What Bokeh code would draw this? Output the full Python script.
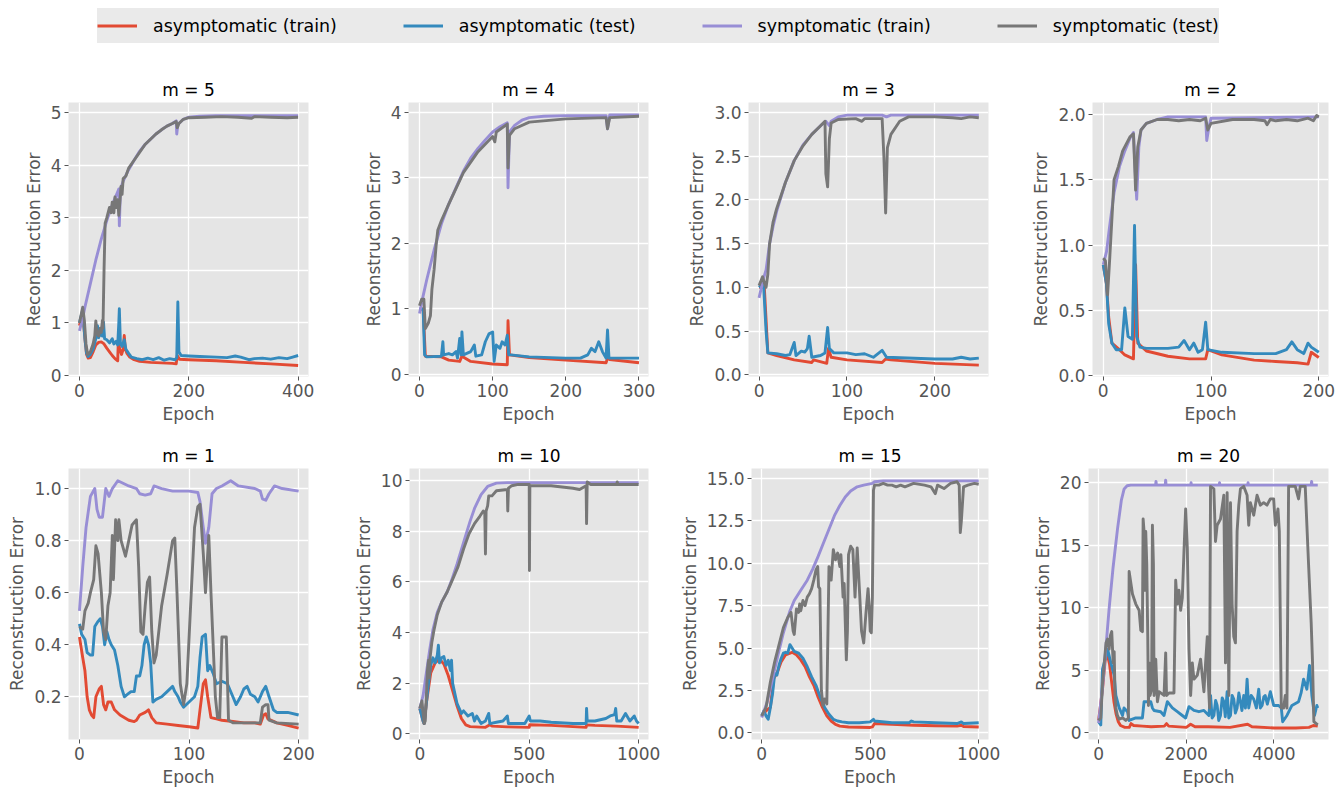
from bokeh.plotting import figure
from bokeh.layouts import column, row
from bokeh.models import (Range1d, FixedTicker, PrintfTickFormatter, Legend, LegendItem,
                          ColumnDataSource)
from bokeh.embed import file_html
from bokeh.resources import INLINE

# ---------------- data (epoch, reconstruction error) ----------------
SERIES_LABELS = ["asymptomatic (train)", "asymptomatic (test)", "symptomatic (train)", "symptomatic (test)"]
SERIES_COLORS = ["#E24A33", "#348ABD", "#988ED5", "#777777"]

PANEL_TITLES = ["m = 5", "m = 4", "m = 3", "m = 2", "m = 1", "m = 10", "m = 15", "m = 20"]

M5_ASYM_TRAIN = [(0,0.95),(6,1.2),(10,0.7),(13,0.4),(16,0.33),(20,0.34),(25,0.45),(30,0.58),(35,0.63),(40,0.64),
                 (45,0.6),(50,0.52),(55,0.45),(60,0.38),(65,0.32),(70,0.28),(71,0.62),(74,0.5),(77,0.4),(80,0.5),
                 (82,0.76),(84,0.5),(87,0.42),(92,0.35),(100,0.3),(110,0.27),(130,0.25),(150,0.24),(170,0.23),
                 (177,0.22),(179,0.38),(183,0.31),(200,0.3),(250,0.28),(300,0.25),(350,0.22),(400,0.19)]
M5_ASYM_TEST = [(0,1.0),(6,1.25),(10,0.7),(13,0.42),(16,0.36),(20,0.4),(25,0.5),(30,0.7),(33,0.95),(35,0.72),
                (38,0.8),(42,0.75),(44,1.02),(46,0.7),(50,0.68),(55,0.62),(60,0.7),(63,0.6),(67,0.65),(70,0.58),
                (72,1.0),(73,1.27),(75,0.6),(78,0.55),(82,0.68),(85,0.5),(90,0.42),(95,0.35),(105,0.32),(115,0.3),
                (125,0.33),(135,0.3),(145,0.34),(155,0.29),(165,0.32),(175,0.3),(178,0.34),(180,1.4),(182,0.45),
                (186,0.38),(200,0.37),(220,0.36),(250,0.35),(270,0.34),(285,0.37),(295,0.35),(310,0.3),(320,0.32),
                (335,0.33),(350,0.31),(365,0.34),(380,0.32),(390,0.35),(400,0.38)]
M5_SYM_TRAIN = [(0,0.85),(5,1.05),(10,1.3),(20,1.75),(30,2.2),(40,2.6),(50,2.95),(60,3.25),(70,3.5),(72,3.55),
                (73,2.85),(75,3.55),(80,3.7),(90,3.92),(100,4.1),(110,4.27),(120,4.4),(130,4.5),(140,4.6),
                (150,4.68),(160,4.75),(170,4.8),(177,4.85),(178,4.6),(180,4.78),(190,4.88),(200,4.92),(220,4.94),
                (250,4.95),(300,4.95),(400,4.95)]
M5_SYM_TEST = [(0,1.0),(3,1.15),(6,1.3),(9,1.05),(12,0.6),(15,0.4),(20,0.45),(25,0.6),(28,0.75),(30,1.04),
               (32,0.8),(35,0.75),(38,0.9),(40,0.82),(42,1.05),(43,0.9),(45,2.0),(47,2.9),(50,3.0),(55,3.2),
               (58,3.1),(60,3.3),(63,3.1),(65,3.4),(68,3.2),(70,3.35),(72,3.05),(74,3.3),(76,3.6),(78,3.45),
               (80,3.75),(85,3.8),(90,3.95),(100,4.1),(110,4.25),(120,4.4),(130,4.5),(140,4.6),(150,4.68),
               (160,4.75),(170,4.8),(177,4.84),(179,4.72),(182,4.8),(190,4.88),(200,4.91),(230,4.92),(260,4.93),
               (290,4.92),(315,4.9),(320,4.93),(350,4.92),(380,4.91),(400,4.92)]

M4_ASYM_TRAIN = [(0,1.0),(5,1.0),(8,0.28),(30,0.27),(40,0.22),(55,0.2),(58,0.28),(70,0.2),(100,0.16),(120,0.15),
                 (121,0.82),(123,0.3),(150,0.26),(200,0.22),(255,0.18),(257,0.25),(260,0.23),(300,0.18)]
M4_ASYM_TEST = [(0,1.0),(5,1.0),(7,0.3),(10,0.27),(30,0.28),(32,0.5),(33,0.3),(40,0.32),(45,0.3),(50,0.35),
                (52,0.25),(55,0.55),(57,0.3),(58,0.65),(60,0.3),(70,0.35),(75,0.45),(77,0.28),(85,0.3),(90,0.5),
                (95,0.62),(100,0.65),(102,0.2),(105,0.45),(110,0.4),(113,0.5),(117,0.45),(120,0.6),(122,0.3),
                (125,0.3),(150,0.27),(200,0.25),(220,0.25),(230,0.3),(235,0.4),(240,0.35),(245,0.5),(250,0.35),
                (255,0.25),(257,0.68),(259,0.25),(300,0.25)]
M4_SYM_TRAIN = [(0,0.93),(5,1.2),(10,1.45),(20,1.9),(30,2.3),(40,2.6),(50,2.85),(60,3.1),(70,3.3),(80,3.45),
                (90,3.58),(100,3.7),(110,3.78),(120,3.84),(121,2.85),(123,3.7),(130,3.8),(140,3.88),(150,3.92),
                (170,3.94),(200,3.95),(255,3.95),(257,3.75),(260,3.96),(300,3.96)]
M4_SYM_TEST = [(0,1.05),(3,1.15),(6,1.15),(8,0.7),(12,0.78),(15,0.9),(17,1.3),(20,1.6),(23,2.0),(25,2.2),
               (30,2.35),(40,2.6),(60,3.08),(80,3.4),(100,3.63),(103,3.55),(105,3.7),(120,3.82),(121,3.15),
               (123,3.65),(130,3.75),(150,3.85),(200,3.9),(255,3.92),(257,3.75),(260,3.92),(300,3.94)]

M3_ASYM_TRAIN = [(0,1.0),(6,1.0),(10,0.25),(20,0.22),(40,0.17),(60,0.14),(62,0.17),(77,0.13),(79,0.3),(82,0.2),
                 (100,0.17),(140,0.14),(144,0.18),(150,0.17),(200,0.13),(250,0.11)]
M3_ASYM_TEST = [(0,1.0),(5,1.05),(8,0.5),(10,0.25),(20,0.24),(30,0.22),(35,0.23),(40,0.37),(42,0.22),(48,0.27),
                (52,0.26),(55,0.3),(57,0.44),(60,0.2),(70,0.22),(75,0.25),(78,0.54),(80,0.3),(85,0.25),(100,0.25),
                (110,0.23),(120,0.24),(130,0.2),(140,0.28),(145,0.2),(200,0.18),(220,0.18),(230,0.2),(240,0.18),
                (250,0.19)]
M3_SYM_TRAIN = [(0,0.88),(5,1.1),(8,1.2),(12,1.5),(16,1.7),(20,1.87),(30,2.2),(40,2.45),(50,2.63),(60,2.75),
                (70,2.85),(76,2.9),(80,2.85),(82,2.9),(90,2.95),(100,2.97),(140,2.97),(145,2.95),(150,2.97),(250,2.97)]
M3_SYM_TEST = [(0,1.02),(4,1.12),(6,1.05),(8,1.0),(10,1.15),(12,1.5),(16,1.75),(20,1.9),(30,2.2),(40,2.45),
               (50,2.62),(60,2.75),(70,2.85),(75,2.9),(76,2.3),(78,2.15),(80,2.7),(82,2.88),(90,2.92),(110,2.93),
               (117,2.9),(120,2.93),(140,2.93),(142,2.5),(144,1.85),(146,2.6),(150,2.75),(160,2.9),(170,2.95),
               (200,2.95),(220,2.94),(230,2.93),(240,2.95),(250,2.94)]

M2_ASYM_TRAIN = [(0,0.85),(3,0.7),(5,0.45),(8,0.25),(15,0.2),(20,0.16),(28,0.13),(30,0.85),(32,0.25),(40,0.19),
                 (60,0.15),(80,0.13),(95,0.13),(97,0.2),(110,0.16),(140,0.12),(160,0.11),(180,0.1),(190,0.09),
                 (193,0.18),(200,0.14)]
M2_ASYM_TEST = [(0,0.85),(3,0.7),(5,0.4),(8,0.25),(12,0.2),(17,0.2),(20,0.52),(23,0.3),(27,0.28),(29,1.15),
                (31,0.3),(34,0.22),(40,0.21),(60,0.21),(70,0.22),(75,0.27),(80,0.2),(84,0.25),(88,0.18),(92,0.2),
                (95,0.41),(97,0.2),(110,0.18),(140,0.17),(160,0.17),(170,0.2),(175,0.26),(180,0.2),(186,0.17),
                (190,0.25),(193,0.22),(200,0.18)]
M2_SYM_TRAIN = [(0,0.85),(3,0.95),(6,1.15),(10,1.4),(15,1.6),(20,1.72),(25,1.82),(28,1.86),(30,1.5),(31,1.35),
                (33,1.75),(35,1.88),(40,1.93),(50,1.96),(60,1.98),(95,1.98),(96,1.8),(98,1.9),(100,1.97),(200,1.98)]
M2_SYM_TEST = [(0,0.9),(2,0.88),(4,0.62),(6,0.9),(8,1.2),(10,1.5),(14,1.6),(18,1.72),(25,1.83),(28,1.85),
               (30,1.42),(32,1.75),(35,1.88),(40,1.93),(50,1.96),(60,1.96),(70,1.95),(80,1.96),(90,1.95),(95,1.97),
               (97,1.88),(100,1.93),(120,1.96),(140,1.96),(150,1.95),(152,1.92),(155,1.96),(160,1.95),(170,1.96),
               (180,1.95),(190,1.97),(195,1.95),(198,1.99),(200,1.98)]

M1_ASYM_TRAIN = [(0,0.43),(3,0.35),(5,0.3),(7,0.2),(9,0.15),(11,0.13),(13,0.12),(15,0.2),(18,0.23),(20,0.24),
                 (22,0.17),(24,0.15),(26,0.18),(29,0.18),(32,0.15),(37,0.13),(45,0.11),(50,0.105),(52,0.11),
                 (55,0.13),(60,0.14),(63,0.15),(66,0.12),(70,0.1),(80,0.095),(90,0.09),(100,0.085),(108,0.08),
                 (110,0.15),(113,0.25),(115,0.265),(117,0.2),(120,0.12),(125,0.115),(130,0.11),(140,0.105),
                 (150,0.1),(160,0.1),(165,0.095),(168,0.13),(170,0.135),(172,0.115),(180,0.1),(190,0.09),(200,0.08)]
M1_ASYM_TEST = [(0,0.48),(2,0.44),(5,0.42),(7,0.37),(10,0.36),(12,0.36),(14,0.47),(17,0.49),(19,0.5),(21,0.47),
                (23,0.4),(25,0.45),(27,0.42),(29,0.4),(32,0.38),(35,0.32),(38,0.24),(41,0.2),(44,0.21),(47,0.22),
                (50,0.22),(52,0.28),(55,0.28),(57,0.32),(59,0.4),(61,0.43),(63,0.4),(65,0.33),(67,0.18),(70,0.19),
                (75,0.2),(80,0.22),(85,0.24),(87,0.22),(90,0.2),(92,0.18),(95,0.16),(100,0.18),(105,0.2),
                (108,0.24),(110,0.35),(112,0.43),(115,0.44),(117,0.3),(119,0.32),(122,0.29),(125,0.25),(130,0.26),
                (135,0.25),(140,0.2),(143,0.17),(147,0.2),(150,0.23),(153,0.24),(156,0.21),(160,0.2),(163,0.18),
                (167,0.22),(170,0.24),(173,0.2),(177,0.15),(180,0.14),(190,0.14),(200,0.13)]
M1_SYM_TRAIN = [(0,0.53),(3,0.7),(6,0.85),(10,0.97),(14,1.0),(16,0.92),(18,0.89),(21,0.89),(24,1.0),(27,0.97),
                (30,1.0),(35,1.03),(45,1.01),(52,1.0),(55,0.98),(60,0.975),(65,0.98),(68,1.01),(75,1.0),(85,0.99),
                (100,0.99),(108,0.985),(110,0.95),(113,0.85),(115,0.79),(118,0.85),(121,0.98),(125,1.0),
                (130,1.01),(138,1.03),(145,1.01),(160,1.0),(165,0.99),(167,0.96),(170,0.955),(173,0.98),
                (178,1.01),(185,1.0),(200,0.99)]
M1_SYM_TEST = [(0,0.47),(3,0.46),(5,0.53),(8,0.56),(10,0.6),(13,0.65),(15,0.78),(17,0.75),(20,0.6),(22,0.45),
               (24,0.42),(26,0.55),(28,0.6),(30,0.82),(31,0.65),(33,0.88),(35,0.8),(36,0.88),(38,0.8),(40,0.77),
               (42,0.74),(45,0.8),(48,0.86),(52,0.88),(54,0.7),(56,0.45),(58,0.44),(60,0.55),(62,0.64),(64,0.66),
               (66,0.45),(68,0.33),(70,0.36),(75,0.55),(80,0.67),(85,0.8),(87,0.81),(89,0.6),(92,0.25),(95,0.17),
               (98,0.25),(102,0.6),(105,0.85),(108,0.93),(110,0.94),(113,0.75),(115,0.6),(118,0.82),(120,0.6),
               (122,0.4),(124,0.2),(126,0.12),(128,0.12),(130,0.43),(134,0.43),(136,0.11),(140,0.1),(150,0.1),
               (160,0.1),(165,0.1),(167,0.16),(170,0.17),(172,0.17),(173,0.11),(180,0.1),(200,0.095)]

M10_ASYM_TRAIN = [(0,1.0),(15,0.5),(20,0.4),(30,1.2),(50,2.4),(70,2.8),(90,2.95),(110,2.75),(130,2.3),(150,1.7),
                  (170,1.1),(190,0.6),(210,0.35),(230,0.28),(300,0.25),(320,0.35),(330,0.3),(400,0.27),(500,0.25),
                  (502,0.35),(600,0.33),(700,0.28),(760,0.25),(762,0.35),(800,0.33),(900,0.3),(1000,0.25)]
M10_ASYM_TEST = [(0,1.0),(15,0.5),(20,0.4),(30,1.2),(40,2.0),(50,2.7),(60,3.0),(70,2.8),(80,3.1),(85,3.5),
                 (90,2.8),(100,3.0),(110,3.05),(120,2.7),(130,2.9),(140,2.5),(145,2.9),(150,2.0),(160,1.6),
                 (170,1.2),(180,1.0),(190,0.8),(200,0.9),(220,0.7),(240,0.8),(250,0.5),(260,0.7),(280,0.4),
                 (300,0.5),(315,0.8),(320,0.4),(350,0.45),(380,0.5),(400,0.7),(405,0.4),(450,0.4),(480,0.4),
                 (500,0.7),(505,0.5),(550,0.5),(600,0.45),(700,0.4),(760,0.4),(762,1.0),(765,0.5),(800,0.5),
                 (850,0.6),(870,0.7),(890,0.75),(895,1.0),(900,0.5),(920,0.5),(940,0.8),(960,0.5),(980,0.7),
                 (990,0.5),(1000,0.4)]
M10_SYM_TRAIN = [(0,1.0),(15,1.5),(30,2.4),(45,3.3),(60,4.1),(80,4.8),(100,5.2),(125,5.6),(145,6.05),(170,6.7),
                 (205,7.7),(230,8.4),(250,8.9),(280,9.45),(310,9.77),(350,9.9),(400,9.92),(1000,9.92)]
M10_SYM_TEST = [(0,1.0),(10,1.3),(15,0.8),(20,0.4),(25,0.5),(30,1.5),(35,2.5),(40,2.9),(43,2.2),(47,3.0),
                (55,3.6),(65,4.1),(80,4.7),(100,5.2),(125,5.6),(150,6.1),(175,6.6),(200,7.3),(225,7.9),(250,8.3),
                (275,8.6),(290,8.8),(297,8.7),(300,7.1),(303,8.8),(310,9.0),(315,9.4),(330,9.4),(350,9.6),
                (400,9.65),(402,8.8),(405,9.7),(420,9.8),(450,9.85),(500,9.85),(501,6.45),(503,9.8),(550,9.8),
                (600,9.8),(650,9.75),(700,9.7),(730,9.65),(750,9.75),(760,9.8),(762,8.3),(765,9.95),(780,9.85),
                (900,9.85),(902,9.95),(905,9.85),(1000,9.85)]

M15_ASYM_TRAIN = [(0,1.0),(20,1.3),(40,1.5),(55,3.2),(70,3.5),(90,4.2),(110,4.6),(140,4.75),(160,4.6),(180,4.3),
                  (200,3.9),(220,3.3),(240,2.8),(260,2.1),(280,1.5),(300,1.0),(320,0.7),(340,0.5),(360,0.4),
                  (400,0.35),(450,0.33),(500,0.32),(510,0.35),(520,0.55),(600,0.5),(700,0.45),(800,0.42),
                  (900,0.4),(920,0.45),(930,0.38),(1000,0.35)]
M15_ASYM_TEST = [(0,1.0),(10,1.3),(20,1.0),(30,0.8),(40,1.5),(50,2.3),(60,3.5),(70,3.4),(80,4.0),(90,4.4),
                 (100,4.7),(110,4.75),(120,4.7),(130,5.2),(140,5.0),(150,4.8),(170,4.7),(190,4.4),(210,3.9),
                 (230,3.3),(250,2.8),(270,2.1),(290,1.5),(310,1.1),(330,0.8),(350,0.7),(370,0.65),(400,0.6),
                 (450,0.6),(500,0.65),(515,0.8),(520,0.7),(600,0.6),(680,0.6),(690,0.7),(700,0.65),(800,0.6),
                 (900,0.55),(920,0.65),(930,0.55),(1000,0.6)]
M15_SYM_TRAIN = [(0,0.9),(25,1.8),(50,3.2),(75,4.6),(100,5.9),(129,7.15),(150,7.8),(180,8.4),(210,9.0),
                 (235,9.65),(260,10.4),(285,11.2),(310,12.0),(335,12.8),(360,13.4),(385,13.9),(410,14.25),
                 (440,14.5),(470,14.6),(510,14.7),(520,14.8),(560,14.85),(1000,14.85)]
M15_SYM_TEST = [(0,1.0),(20,1.5),(40,3.0),(60,4.2),(80,5.2),(100,6.2),(120,6.8),(135,7.1),(145,6.0),(150,5.8),
                (160,7.3),(170,7.1),(175,7.6),(180,7.2),(190,7.8),(200,7.5),(210,8.0),(220,8.2),(230,8.5),
                (240,9.0),(250,9.6),(258,9.8),(262,8.6),(268,8.5),(275,2.5),(282,1.6),(290,2.0),(300,1.7),
                (310,9.8),(320,9.0),(330,10.8),(340,10.2),(350,10.6),(360,9.8),(365,10.5),(375,8.0),(380,8.8),
                (390,4.3),(395,6.0),(400,10.5),(410,11.0),(420,10.8),(430,8.0),(440,10.9),(450,8.5),(460,6.0),
                (470,5.3),(480,7.0),(490,8.5),(495,7.5),(500,6.0),(505,5.9),(510,8.0),(515,14.3),(520,14.6),
                (540,14.6),(560,14.7),(580,14.6),(600,14.6),(620,14.5),(640,14.6),(660,14.5),(680,14.6),
                (700,14.7),(750,14.6),(780,14.5),(800,14.1),(810,14.6),(840,14.4),(870,14.7),(900,14.8),
                (910,14.6),(915,11.8),(920,12.5),(930,14.5),(950,14.6),(980,14.7),(1000,14.65)]

M20_ASYM_TRAIN = [(0,1.0),(90,3.5),(150,5.8),(190,6.4),(250,5.5),(300,4.0),(350,2.5),(400,1.5),(450,0.9),
                  (500,0.6),(600,0.45),(700,0.45),(740,0.75),(800,0.6),(1000,0.55),(1200,0.5),(1500,0.55),
                  (1550,0.75),(1600,0.55),(2000,0.45),(2100,0.7),(2200,0.5),(2500,0.5),(3000,0.45),(3400,0.7),
                  (3500,0.5),(4000,0.4),(4500,0.4),(4800,0.45),(4900,0.6),(5000,0.55)]
M20_ASYM_TEST = [(0,0.9),(50,0.65),(90,5.1),(167,6.1),(205,6.7),(280,5.6),(356,4.6),(394,3.0),(470,2.0),
                 (546,1.4),(580,2.0),(660,1.7),(697,1.0),(849,1.2),(1000,1.2),(1038,2.5),(1190,2.5),(1228,2.0),
                 (1266,1.8),(1417,1.7),(1493,1.4),(1569,2.5),(1683,2.0),(1796,1.7),(1910,1.4),(1986,1.2),
                 (2062,2.1),(2175,1.8),(2289,1.7),(2403,1.8),(2516,1.4),(2554,3.0),(2590,1.2),(2630,1.4),
                 (2670,2.6),(2705,2.2),(2740,1.0),(2781,1.4),(2820,2.8),(2857,2.5),(2890,1.3),(2933,3.3),
                 (2970,1.2),(3009,1.4),(3046,3.0),(3084,2.7),(3120,1.6),(3160,2.0),(3200,3.2),(3236,2.5),
                 (3270,1.8),(3312,3.0),(3350,2.0),(3388,4.3),(3425,2.0),(3480,3.0),(3539,2.7),(3600,2.0),
                 (3653,3.5),(3690,2.0),(3730,2.2),(3770,2.9),(3800,3.0),(3850,2.3),(3918,3.3),(3994,2.2),
                 (4108,2.2),(4168,2.0),(4199,0.9),(4297,1.4),(4411,2.2),(4562,2.5),(4620,3.2),(4676,4.3),
                 (4752,3.5),(4812,5.4),(4866,3.0),(4926,1.4),(4979,2.2),(5000,2.0)]
M20_SYM_TRAIN = [(0,0.8),(100,4.0),(242,10.0),(330,13.2),(432,16.3),(520,18.6),(583,19.5),(650,19.75),
                 (735,19.8),(1300,19.8),(1310,20.1),(1320,19.8),(1520,19.8),(1530,20.2),(1540,19.8),(2100,19.8),
                 (2110,20.0),(2120,19.8),(2750,19.8),(2760,20.0),(2770,19.8),(3400,19.8),(3410,20.0),
                 (3420,19.8),(4850,19.8),(4860,20.1),(4870,19.8),(5000,19.8)]
M20_SYM_TEST = [(0,1.0),(50,1.2),(90,4.0),(130,5.6),(170,7.2),(205,7.5),(240,6.7),(270,7.8),(300,8.1),
                (333,5.6),(356,6.5),(375,3.0),(394,2.0),(430,1.4),(470,1.1),(550,1.2),(620,1.0),(680,1.2),
                (697,12.9),(735,12.0),(773,11.1),(849,10.3),(925,9.8),(963,8.2),(1000,8.1),(1016,17.1),
                (1038,16.1),(1061,11.4),(1076,16.1),(1099,13.5),(1122,7.7),(1137,2.2),(1152,5.6),(1175,3.0),
                (1210,3.5),(1228,16.6),(1251,13.5),(1266,3.0),(1304,5.9),(1342,2.5),(1380,3.3),(1493,3.0),
                (1531,6.4),(1550,3.0),(1607,3.2),(1720,3.2),(1759,12.2),(1796,10.3),(1834,11.4),(1872,9.8),
                (1910,10.8),(1948,14.5),(1986,17.9),(2024,14.8),(2062,6.7),(2100,3.0),(2138,5.6),(2175,4.3),
                (2251,4.6),(2327,5.9),(2403,3.3),(2441,5.6),(2480,7.7),(2501,4.3),(2532,2.0),(2554,19.7),
                (2630,19.5),(2667,15.3),(2705,16.6),(2781,17.1),(2857,19.0),(2895,5.6),(2933,19.2),(2971,3.0),
                (3009,18.4),(3046,10.3),(3084,7.7),(3122,7.2),(3160,16.1),(3198,18.2),(3236,19.5),(3312,19.7),
                (3388,19.0),(3425,16.6),(3463,18.4),(3539,17.4),(3615,19.0),(3691,18.2),(3767,18.4),
                (3842,18.2),(3918,18.7),(3994,18.7),(4032,16.6),(4092,17.9),(4123,16.1),(4168,2.0),(4221,2.0),
                (4259,3.0),(4297,2.0),(4335,19.7),(4487,19.7),(4562,18.7),(4600,19.7),(4714,19.7),(4790,13.5),
                (4850,8.8),(4881,5.6),(4911,0.9),(5000,0.65)]

PANEL_SERIES = [
    [M5_ASYM_TRAIN, M5_ASYM_TEST, M5_SYM_TRAIN, M5_SYM_TEST],
    [M4_ASYM_TRAIN, M4_ASYM_TEST, M4_SYM_TRAIN, M4_SYM_TEST],
    [M3_ASYM_TRAIN, M3_ASYM_TEST, M3_SYM_TRAIN, M3_SYM_TEST],
    [M2_ASYM_TRAIN, M2_ASYM_TEST, M2_SYM_TRAIN, M2_SYM_TEST],
    [M1_ASYM_TRAIN, M1_ASYM_TEST, M1_SYM_TRAIN, M1_SYM_TEST],
    [M10_ASYM_TRAIN, M10_ASYM_TEST, M10_SYM_TRAIN, M10_SYM_TEST],
    [M15_ASYM_TRAIN, M15_ASYM_TEST, M15_SYM_TRAIN, M15_SYM_TEST],
    [M20_ASYM_TRAIN, M20_ASYM_TEST, M20_SYM_TRAIN, M20_SYM_TEST],
]

X_RANGES = [(-20, 419), (-15, 313), (-12, 261), (-10, 209), (-10, 209), (-47, 1045), (-47, 1045), (-230, 5245)]
Y_RANGES = [(-0.02, 5.2), (-0.03, 4.15), (-0.02, 3.115), (-0.005, 2.09), (0.036, 1.077),
            (-0.23, 10.48), (-0.39, 15.58), (-0.52, 21.13)]
X_TICKS = [[0, 200, 400], [0, 100, 200, 300], [0, 100, 200], [0, 100, 200], [0, 100, 200],
           [0, 500, 1000], [0, 500, 1000], [0, 2000, 4000]]
Y_TICKS = [[0, 1, 2, 3, 4, 5], [0, 1, 2, 3, 4], [0, 0.5, 1.0, 1.5, 2.0, 2.5, 3.0], [0, 0.5, 1.0, 1.5, 2.0],
           [0.2, 0.4, 0.6, 0.8, 1.0], [0, 2, 4, 6, 8, 10], [0, 2.5, 5, 7.5, 10, 12.5, 15], [0, 5, 10, 15, 20]]
Y_FORMATS = ["%d", "%d", "%.1f", "%.1f", "%.1f", "%d", "%.1f", "%d"]

# ---------------- layout ----------------
FONT = "DejaVu Sans"
PLOT_W = 240
LEFT = [68, 58, 72, 60]
RIGHT = [42, 28, 40, 8]
ROW_TOP = [46, 38]
ROW_PLOT_H = [274, 275]
ROW_BOTTOM = [54, 46]
LEGEND_H = 56


def make_panel(i):
    col = i % 4
    r = i // 4
    w = LEFT[col] + PLOT_W + RIGHT[col]
    h = ROW_TOP[r] + ROW_PLOT_H[r] + ROW_BOTTOM[r]
    p = figure(width=w, height=h, output_backend="svg", toolbar_location=None,
               x_range=Range1d(*X_RANGES[i]), y_range=Range1d(*Y_RANGES[i]),
               min_border_left=LEFT[col], min_border_right=RIGHT[col],
               min_border_top=ROW_TOP[r], min_border_bottom=ROW_BOTTOM[r],
               background_fill_color="#E5E5E5", border_fill_color="white",
               outline_line_color=None)
    p.title.text = PANEL_TITLES[i]
    p.title.align = "center"
    p.title.text_font = FONT
    p.title.text_font_size = "17px"
    p.title.text_font_style = "normal"
    p.title.text_color = "black"
    p.title.standoff = 5

    for k, pts in enumerate(PANEL_SERIES[i]):
        src = ColumnDataSource(dict(x=[a for a, b in pts], y=[b for a, b in pts]))
        p.line("x", "y", source=src, line_color=SERIES_COLORS[k], line_width=2.9, line_join="round")

    p.xaxis.ticker = FixedTicker(ticks=X_TICKS[i])
    p.yaxis.ticker = FixedTicker(ticks=Y_TICKS[i])
    p.xaxis.formatter = PrintfTickFormatter(format="%d")
    p.yaxis.formatter = PrintfTickFormatter(format=Y_FORMATS[i])
    p.xaxis.axis_label = "Epoch"
    p.yaxis.axis_label = "Reconstruction Error"
    for ax in (p.xaxis[0], p.yaxis[0]):
        ax.axis_line_color = None
        ax.major_tick_line_color = "#555555"
        ax.major_tick_out = 4
        ax.major_tick_in = 0
        ax.minor_tick_line_color = None
        ax.major_label_text_font = FONT
        ax.major_label_text_font_size = "17px"
        ax.major_label_text_color = "#555555"
        ax.major_label_standoff = 3
        ax.axis_label_text_font = FONT
        ax.axis_label_text_font_size = "17px"
        ax.axis_label_text_font_style = "normal"
        ax.axis_label_text_color = "#555555"
        ax.axis_label_standoff = 4
    p.grid.grid_line_color = "white"
    p.grid.grid_line_width = 1.3
    return p


panels = [make_panel(i) for i in range(8)]

# legend strip
leg = figure(width=1336, height=LEGEND_H, output_backend="svg", toolbar_location=None,
             x_range=Range1d(0, 1), y_range=Range1d(0, 1), min_border=0,
             outline_line_color=None, background_fill_color="white", border_fill_color="white")
leg.axis.visible = False
leg.grid.visible = False
nan = float("nan")
items = []
for k in range(4):
    rr = leg.line(x=[nan, nan], y=[nan, nan], line_color=SERIES_COLORS[k], line_width=3)
    items.append(LegendItem(label=SERIES_LABELS[k], renderers=[rr]))
legend = Legend(items=items, orientation="horizontal", location=(97, 13),
                label_text_font=FONT, label_text_font_size="17.4px", label_text_color="black",
                glyph_width=40, glyph_height=35, label_height=35, label_standoff=16, spacing=66,
                padding=8, margin=0, background_fill_color="#E5E5E5", background_fill_alpha=0.8,
                border_line_color=None)
leg.add_layout(legend, "center")

layout = column(leg, row(*panels[:4]), row(*panels[4:]))

open("out.html", "w").write(file_html(layout, INLINE))
